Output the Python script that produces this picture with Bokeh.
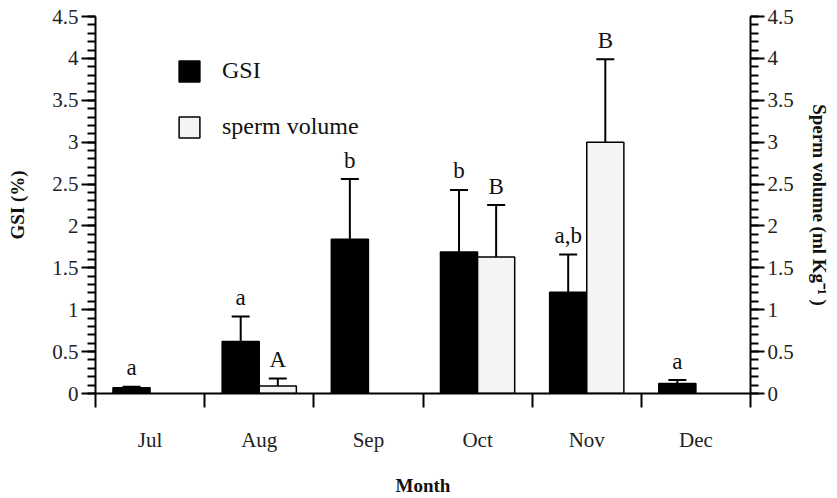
import numpy as np
from bokeh.plotting import figure
from bokeh.models import (Range1d, LinearAxis, FixedTicker, SingleIntervalTicker,
                          CustomJSTickFormatter, ColumnDataSource, Whisker, TeeHead,
                          Legend, LegendItem)
from bokeh.core.properties import value
from bokeh.embed import file_html
from bokeh.resources import INLINE

# ---- data ----
months = ["Jul", "Aug", "Sep", "Oct", "Nov", "Dec"]
gsi = [0.07, 0.62, 1.84, 1.69, 1.21, 0.12]
gsi_err = [0.01, 0.30, 0.72, 0.74, 0.45, 0.04]
gsi_letters = ["a", "a", "b", "b", "a,b", "a"]
sperm = [None, 0.09, None, 1.63, 3.00, None]
sperm_err = [None, 0.09, None, 0.62, 0.99, None]
sperm_letters = ["", "A", "", "B", "B", ""]

FONT = "Liberation Serif"
BAR_W = 0.34

idx = np.arange(len(months)) + 0.5
gsi_src = ColumnDataSource(dict(
    x=idx - BAR_W / 2, top=gsi, lower=gsi,
    upper=[v + e for v, e in zip(gsi, gsi_err)], label=gsi_letters))
keep = [i for i, v in enumerate(sperm) if v is not None]
sp_src = ColumnDataSource(dict(
    x=[idx[i] + BAR_W / 2 for i in keep],
    top=[sperm[i] for i in keep],
    lower=[sperm[i] - sperm_err[i] for i in keep],
    upper=[sperm[i] + sperm_err[i] for i in keep],
    label=[sperm_letters[i] for i in keep]))

p = figure(width=837, height=498, output_backend="svg", toolbar_location=None,
           x_range=Range1d(0, len(months)), y_range=Range1d(0, 4.5),
           min_border_left=95, min_border_right=87, min_border_top=16,
           min_border_bottom=89, x_axis_location=None, y_axis_location=None)
p.extra_y_ranges = {"sv": Range1d(0, 4.5)}
p.outline_line_color = None
p.xgrid.visible = False
p.ygrid.visible = False
p.background_fill_color = "white"
p.border_fill_color = "white"

num_fmt = CustomJSTickFormatter(code="return String(Math.round(tick*10)/10);")

def style_axis(ax):
    ax.axis_line_width = 2
    ax.axis_line_color = "black"
    ax.major_tick_line_width = 2
    ax.minor_tick_line_width = 2
    ax.major_label_text_font = FONT
    ax.major_label_text_font_size = "21px"
    ax.major_label_text_color = "#222222"
    ax.axis_label_text_font = FONT
    ax.axis_label_text_font_style = "bold"
    ax.axis_label_text_font_size = "19px"
    ax.axis_label_text_color = "#111111"

# left axis
yl = LinearAxis(ticker=SingleIntervalTicker(interval=0.5, num_minor_ticks=5),
                formatter=num_fmt, axis_label="GSI (%)")
style_axis(yl)
yl.major_tick_out = 14; yl.major_tick_in = 0
yl.minor_tick_out = 8; yl.minor_tick_in = 0
yl.major_label_standoff = 3
yl.axis_label_standoff = 21
p.add_layout(yl, "left")

# right axis
yr = LinearAxis(y_range_name="sv",
                ticker=SingleIntervalTicker(interval=0.5, num_minor_ticks=5),
                formatter=num_fmt, axis_label="Sperm volume (ml Kg\u207b\u00b9 )")
style_axis(yr)
yr.major_tick_out = 14; yr.major_tick_in = 0
yr.minor_tick_out = 8; yr.minor_tick_in = 0
yr.major_label_standoff = 3
yr.axis_label_standoff = 12
p.add_layout(yr, "right")

# bottom axis: labels at category centres, tick marks at boundaries
xb = LinearAxis(ticker=FixedTicker(ticks=list(idx),
                                   minor_ticks=list(range(len(months) + 1))),
                formatter=CustomJSTickFormatter(args=dict(m=months),
                                                code="return m[Math.floor(tick)];"),
                axis_label="Month")
style_axis(xb)
xb.major_tick_out = 0; xb.major_tick_in = 0
xb.minor_tick_out = 14; xb.minor_tick_in = 0
xb.major_label_standoff = 20
xb.axis_label_standoff = 20
p.add_layout(xb, "below")

# bars
r_gsi = p.vbar(x="x", top="top", width=BAR_W, bottom=0, source=gsi_src,
               fill_color="black", line_color="black", line_width=1.5)
r_sp = p.vbar(x="x", top="top", width=BAR_W, bottom=0, source=sp_src,
              y_range_name="sv", fill_color="#f4f4f4", line_color="black",
              line_width=1.5)

# error bars
w1 = Whisker(source=gsi_src, base="x", lower="lower", upper="upper",
             dimension="height", line_width=2, line_color="black",
             upper_head=TeeHead(size=18, line_width=2, line_color="black"),
             lower_head=None)
w2 = Whisker(source=sp_src, base="x", lower="lower", upper="upper",
             dimension="height", line_width=2, line_color="black",
             y_range_name="sv",
             upper_head=TeeHead(size=18, line_width=2, line_color="black"),
             lower_head=TeeHead(size=18, line_width=2, line_color="black"))
p.add_layout(w1)
p.add_layout(w2)

# significance letters
p.text(x="x", y="upper", text="label", source=gsi_src, y_offset=-19,
       text_align="center", text_baseline="alphabetic",
       text_font=value(FONT), text_font_size="23px", text_color="#111111")
p.text(x="x", y="upper", text="label", source=sp_src, y_range_name="sv",
       y_offset=-19, text_align="center", text_baseline="alphabetic",
       text_font=value(FONT), text_font_size="23px", text_color="#111111")

legend = Legend(items=[LegendItem(label="GSI", renderers=[r_gsi]),
                       LegendItem(label="sperm volume", renderers=[r_sp])],
                location=(81, 253), glyph_width=26, glyph_height=26,
                spacing=29, label_standoff=20, padding=0, margin=0,
                border_line_color=None, background_fill_alpha=0,
                label_text_font=FONT, label_text_font_size="24px",
                label_text_color="#111111")
p.add_layout(legend)

open("out.html", "w").write(file_html(p, INLINE))
